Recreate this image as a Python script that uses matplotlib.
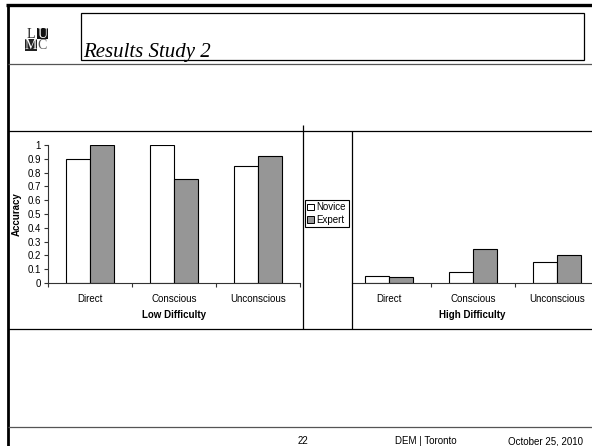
import matplotlib
matplotlib.use("Agg")
import matplotlib.pyplot as plt
from matplotlib.lines import Line2D
from matplotlib.patches import Rectangle, Patch

# ---- data -------------------------------------------------------------
categories = ["Direct", "Conscious", "Unconscious"]
series_names = ["Novice", "Expert"]
low_novice = [0.90, 1.00, 0.85]
low_expert = [1.00, 0.75, 0.92]
high_novice = [0.05, 0.08, 0.155]
high_expert = [0.04, 0.25, 0.20]
y_ticks = [0, 0.1, 0.2, 0.3, 0.4, 0.5, 0.6, 0.7, 0.8, 0.9, 1]
y_tick_labels = ["0", "0.1", "0.2", "0.3", "0.4", "0.5", "0.6", "0.7", "0.8", "0.9", "1"]
panel_titles = ["Low Difficulty", "High Difficulty"]
slide_title = "Results Study 2"
footer_texts = ["22", "DEM | Toronto", "October 25, 2010"]

W, H = 592, 446
DPI = 100
fig = plt.figure(figsize=(W / DPI, H / DPI), dpi=DPI)
fig.patch.set_facecolor("white")

SANS = "Liberation Sans"
SERIF = "Liberation Serif"
NOVICE_C = "white"
EXPERT_C = "#969696"


def fx(px):
    return px / W


def fy(py):
    return 1 - py / H


def hline(y, x0, x1, lw=1.0, color="black"):
    fig.add_artist(Line2D([fx(x0), fx(x1)], [fy(y), fy(y)], lw=lw, color=color,
                          transform=fig.transFigure, solid_capstyle="butt"))


def vline(x, y0, y1, lw=1.0, color="black"):
    fig.add_artist(Line2D([fx(x), fx(x)], [fy(y0), fy(y1)], lw=lw, color=color,
                          transform=fig.transFigure, solid_capstyle="butt"))


def axes_px(x0, y_top, x1, y_bot):
    return fig.add_axes([fx(x0), fy(y_bot), (x1 - x0) / W, (y_bot - y_top) / H])


# ---- slide frame ------------------------------------------------------
hline(5, 6, W, lw=2.4)
vline(7.5, 4, H, lw=2.0)
hline(64, 8, W, lw=0.9, color="#555555")
hline(131, 8, W, lw=0.9)
hline(329, 8, W, lw=0.9)
hline(427, 8, W, lw=0.9, color="#555555")
vline(303, 125, 329, lw=0.9)
vline(352, 131, 329, lw=0.9)

# header box
fig.add_artist(Rectangle((fx(81), fy(60)), (584 - 81) / W, (60 - 13) / H,
                         transform=fig.transFigure, fill=False, lw=0.9,
                         edgecolor="black"))
fig.text(fx(83), fy(57), slide_title, fontsize=15, family=SERIF, style="italic",
         ha="left", va="baseline")

# logo: two-by-two letter grid
cell = 11.5
cells = [("L", 25, 28, "white", "#222222"), ("U", 25 + cell, 28, "#111111", "white"),
         ("M", 25, 28 + cell, "#222222", "white"),
         ("C", 25 + cell, 28 + cell, "white", "#555555")]
for letter, cx, cy, bg, fg in cells:
    fig.add_artist(Rectangle((fx(cx), fy(cy + cell)), cell / W, cell / H,
                             transform=fig.transFigure, facecolor=bg,
                             edgecolor="none"))
    fig.text(fx(cx + cell / 2), fy(cy + cell - 2), letter, fontsize=10,
             family=SERIF, color=fg, ha="center", va="baseline")

# footer
for txt, cx in zip(footer_texts, [303, 426, 546]):
    fig.text(fx(cx), fy(444), txt, fontsize=7, family=SANS,
             ha="center", va="baseline")

# ---- charts ------------------------------------------------------------
bw = 24 / 84
x = list(range(len(categories)))


def draw_panel(ax, novice, expert, title, xlim):
    ax.bar([i - bw / 2 for i in x], novice, width=bw, color=NOVICE_C,
           edgecolor="black", lw=0.8, zorder=2)
    ax.bar([i + bw / 2 for i in x], expert, width=bw, color=EXPERT_C,
           edgecolor="black", lw=0.8, zorder=2)
    ax.set_xlim(*xlim)
    ax.set_ylim(0, 1)
    ax.set_facecolor("none")
    for s in ["top", "right"]:
        ax.spines[s].set_visible(False)
    ax.spines["bottom"].set_linewidth(0.8)
    ax.spines["bottom"].set_color("#333333")
    ax.spines["left"].set_linewidth(0.8)
    ax.spines["left"].set_color("#333333")
    bounds = [b + 0.5 for b in range(-1, len(categories))]
    bounds = [b for b in bounds if xlim[0] <= b <= xlim[1]]
    ax.set_xticks(bounds)
    ax.set_xticklabels([])
    ax.tick_params(axis="x", which="major", direction="out", length=3,
                   width=0.8, color="#333333")
    ax.set_xticks(x, minor=True)
    ax.set_xticklabels(categories, minor=True, fontsize=7, family=SANS)
    ax.tick_params(axis="x", which="minor", length=0, pad=8)
    ax.set_xlabel(title, fontsize=7, family=SANS, fontweight="bold",
                  labelpad=4)


axL = axes_px(48, 145, 300, 283)
draw_panel(axL, low_novice, low_expert, panel_titles[0], (-0.5, 2.5))
axL.set_yticks(y_ticks)
axL.set_yticklabels(y_tick_labels, fontsize=7, family=SANS)
axL.tick_params(axis="y", direction="out", length=3, width=0.8,
                color="#333333", pad=2)
axL.set_ylabel("Accuracy", fontsize=7, family=SANS, fontweight="bold",
               labelpad=4)

axR = axes_px(352, 145, 592, 283)
draw_panel(axR, high_novice, high_expert, panel_titles[1],
           (-37 / 84, 203 / 84))
axR.spines["left"].set_visible(False)
axR.set_yticks([])

# legend
handles = [Patch(facecolor=NOVICE_C, edgecolor="black", lw=0.7),
           Patch(facecolor=EXPERT_C, edgecolor="black", lw=0.7)]
leg = fig.legend(handles, series_names, loc="upper left",
                 bbox_to_anchor=(fx(305), fy(200)), frameon=True,
                 fancybox=False, edgecolor="black", framealpha=1,
                 prop={"family": SANS, "size": 7}, handlelength=0.7,
                 handleheight=0.7, handletextpad=0.25, borderpad=0.25,
                 labelspacing=0.25, borderaxespad=0)
leg.get_frame().set_linewidth(0.8)

fig.savefig("out.png", dpi=DPI)
